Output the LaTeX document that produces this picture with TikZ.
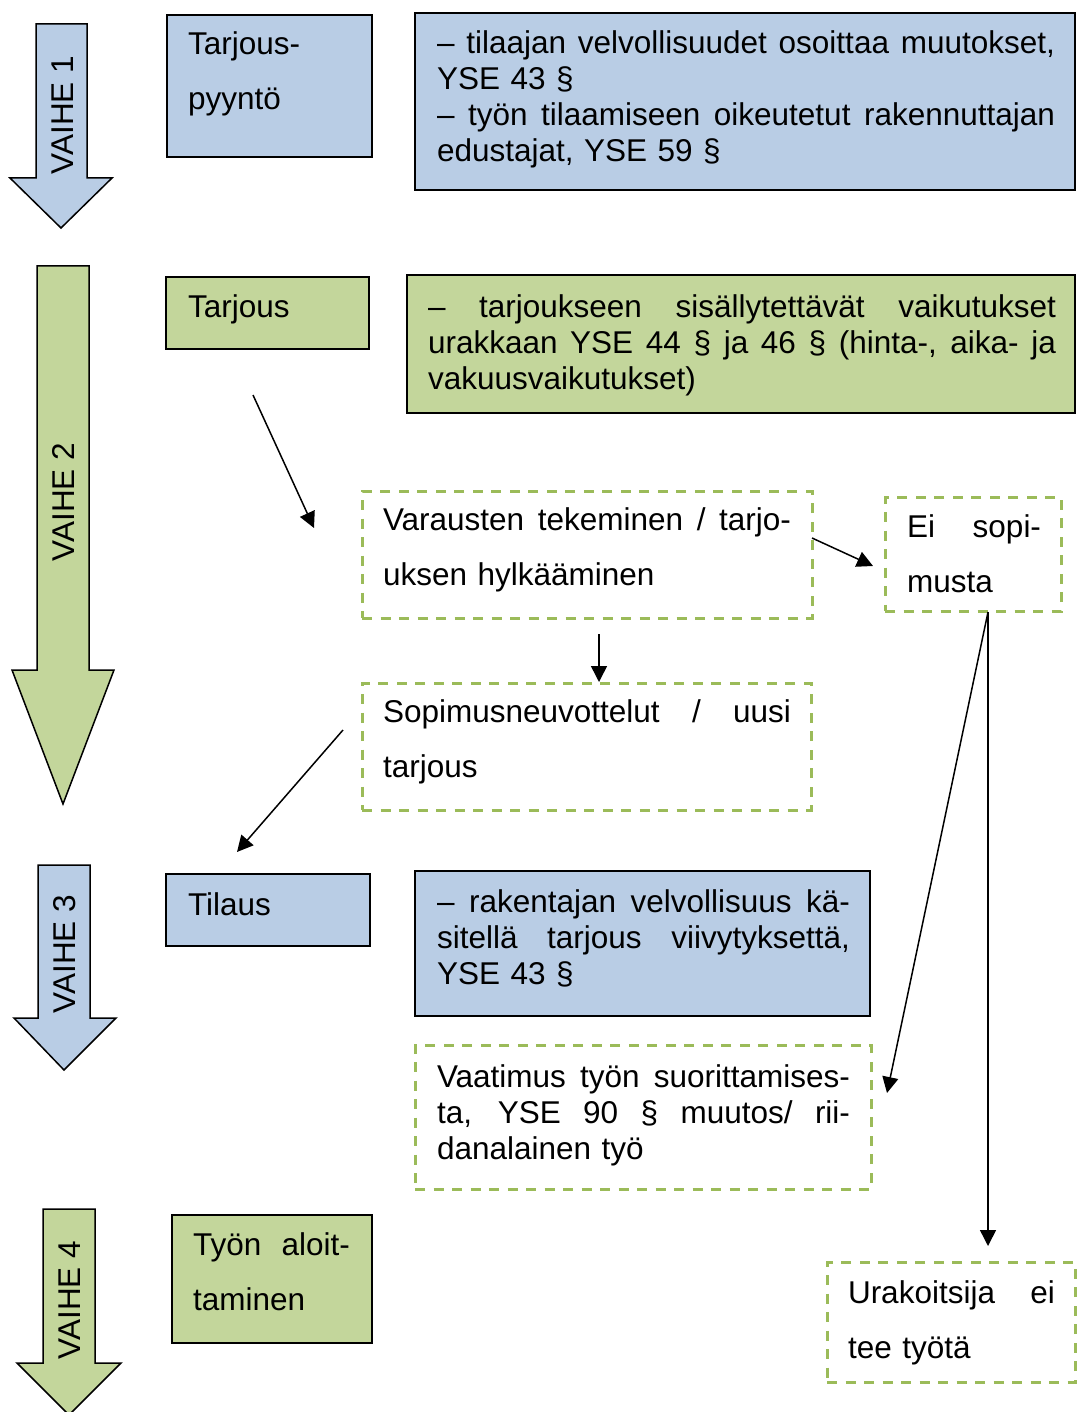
\documentclass[tikz,border=0pt]{standalone}
\usepackage{fontspec}
\setmainfont{Liberation Sans}
\usetikzlibrary{arrows.meta,calc}
\definecolor{phaseblue}{HTML}{B9CDE5}
\definecolor{phasegreen}{HTML}{C3D69B}
\definecolor{dashgreen}{HTML}{9BBB59}
% a justified line of a given width (in pt): interword spaces share the slack
\newcommand\fullline[2]{\leavevmode\hbox to #1pt{\spaceskip=\fontdimen2\font plus 1fil\relax #2}}
\begin{document}
\begin{tikzpicture}[x=1pt,y=-1pt,
  solidbox/.style={draw=black, line width=1.5pt, inner sep=0pt, outer sep=0pt, anchor=north west},
  bluebox/.style={solidbox, fill=phaseblue},
  greenbox/.style={solidbox, fill=phasegreen},
  dashbox/.style={draw=dashgreen, line width=3pt, dash pattern=on 10pt off 8.5pt,
                  inner sep=0pt, outer sep=0pt, anchor=north west},
  txt/.style={inner sep=0pt, outer sep=0pt, anchor=base west, align=left,
              font=\fontsize{31.5}{36}\selectfont},
  widetxt/.style={txt, font=\fontsize{31.5}{55}\selectfont},
  phase/.style={draw=black, line width=1.5pt},
  phasetxt/.style={rotate=90, inner sep=0pt, font=\fontsize{31.5}{36}\selectfont},
  link/.style={line width=1.5pt, -{Triangle[length=16pt,width=16pt]}}]
\useasboundingbox (0,0) rectangle (1076,1412);

% ---- phase arrows ----
\draw[phase, fill=phaseblue] (36,24) -- (87,24) -- (87,178) -- (112,178) -- (61,228)
  -- (10,178) -- (36,178) -- cycle;
\node[phasetxt] (p1) at (63,115) {VAIHE 1};
\draw[phase, fill=phasegreen] (37,266) -- (89,266) -- (89,670) -- (114,670) -- (63,804)
  -- (12,670) -- (37,670) -- cycle;
\node[phasetxt] (p2) at (64,502) {VAIHE 2};
\draw[phase, fill=phaseblue] (38,865) -- (90,865) -- (90,1018) -- (116,1018) -- (64,1070)
  -- (14,1018) -- (38,1018) -- cycle;
\node[phasetxt] (p3) at (65,954) {VAIHE 3};
\draw[phase, fill=phasegreen] (43,1209) -- (95,1209) -- (95,1363) -- (121,1363) -- (69,1415)
  -- (17,1363) -- (43,1363) -- cycle;
\node[phasetxt] (p4) at (70,1300) {VAIHE 4};

% ---- phase 1 ----
\node[bluebox, minimum width=205pt, minimum height=142pt] (reqbox) at (167,15) {};
\node[widetxt, text width=180pt] (reqt) at (188,55) {Tarjous-\\pyyntö};
\node[bluebox, minimum width=660pt, minimum height=177pt] (note1) at (415,13) {};
\node[txt, text width=618pt] (note1t) at (437,54)
  {\fullline{618}{– tilaajan velvollisuudet osoittaa muutokset,}\\
   YSE 43 §\\
   \fullline{618}{– työn tilaamiseen oikeutetut rakennuttajan}\\
   edustajat, YSE 59 §};

% ---- phase 2 ----
\node[greenbox, minimum width=203pt, minimum height=72pt] (offerbox) at (166,277) {};
\node[txt] (offert) at (188,317) {Tarjous};
\node[greenbox, minimum width=668pt, minimum height=138pt] (note2) at (407,275) {};
\node[txt, text width=628pt] (note2t) at (428,317)
  {\fullline{628}{– tarjoukseen sisällytettävät vaikutukset}\\
   \fullline{628}{urakkaan YSE 44 § ja 46 § (hinta-, aika- ja}\\
   vakuusvaikutukset)};

\node[dashbox, minimum width=450pt, minimum height=127pt] (resbox) at (362,491) {};
\node[widetxt, text width=408pt] (rest) at (383,530)
  {\fullline{408}{Varausten tekeminen / tarjo-}\\uksen hylkääminen};
\node[dashbox, minimum width=176pt, minimum height=114pt] (nodeal) at (885,497) {};
\node[widetxt, text width=134pt] (nodealt) at (907,537)
  {\fullline{134}{Ei sopi-}\\musta};
\node[dashbox, minimum width=449pt, minimum height=127pt] (negbox) at (362,683) {};
\node[widetxt, text width=408pt] (negt) at (383,722)
  {\fullline{408}{Sopimusneuvottelut / uusi}\\tarjous};

% ---- phase 3 ----
\node[bluebox, minimum width=204pt, minimum height=72pt] (orderbox) at (166,874) {};
\node[txt] (ordert) at (188,915) {Tilaus};
\node[bluebox, minimum width=455pt, minimum height=145pt] (note3) at (415,871) {};
\node[txt, text width=413pt] (note3t) at (437,912)
  {\fullline{413}{– rakentajan velvollisuus kä-}\\
   \fullline{413}{sitellä tarjous viivytyksettä,}\\
   YSE 43 §};
\node[dashbox, minimum width=456pt, minimum height=144pt] (demand) at (415,1045) {};
\node[txt, text width=413pt] (demandt) at (437,1087)
  {\fullline{413}{Vaatimus työn suorittamises-}\\
   \fullline{413}{ta, YSE 90 § muutos/ rii-}\\
   danalainen työ};

% ---- phase 4 ----
\node[greenbox, minimum width=200pt, minimum height=128pt] (startbox) at (172,1215) {};
\node[widetxt, text width=157pt] (startt) at (193,1255)
  {\fullline{157}{Työn aloit-}\\taminen};
\node[dashbox, minimum width=248pt, minimum height=120pt] (nowork) at (827,1262) {};
\node[widetxt, text width=207pt] (noworkt) at (848,1303)
  {\fullline{207}{Urakoitsija ei}\\tee työtä};

% ---- connectors ----
\coordinate (offerout) at (253,395);
\coordinate (resin) at (314,528);
\draw[link] (offerout) -- (resin);
\coordinate (nodealin) at (873,566);
\draw[link] ($(resbox.north east)+(0,47)$) -- (nodealin);
\coordinate (resout) at (599,634);
\draw[link] (resout) -- ($(negbox.north)+(12.5,-1)$);
\coordinate (negout) at (343,730);
\coordinate (orderin) at (237,852);
\draw[link] (negout) -- (orderin);
\coordinate (nodealout) at ($(nodeal.south)+(15,1)$);
\coordinate (demandin) at (887,1093);
\coordinate (noworkin) at (988,1246);
\draw[link] (nodealout) -- (demandin);
\draw[link] (nodealout) -- (noworkin);
\end{tikzpicture}
\end{document}
